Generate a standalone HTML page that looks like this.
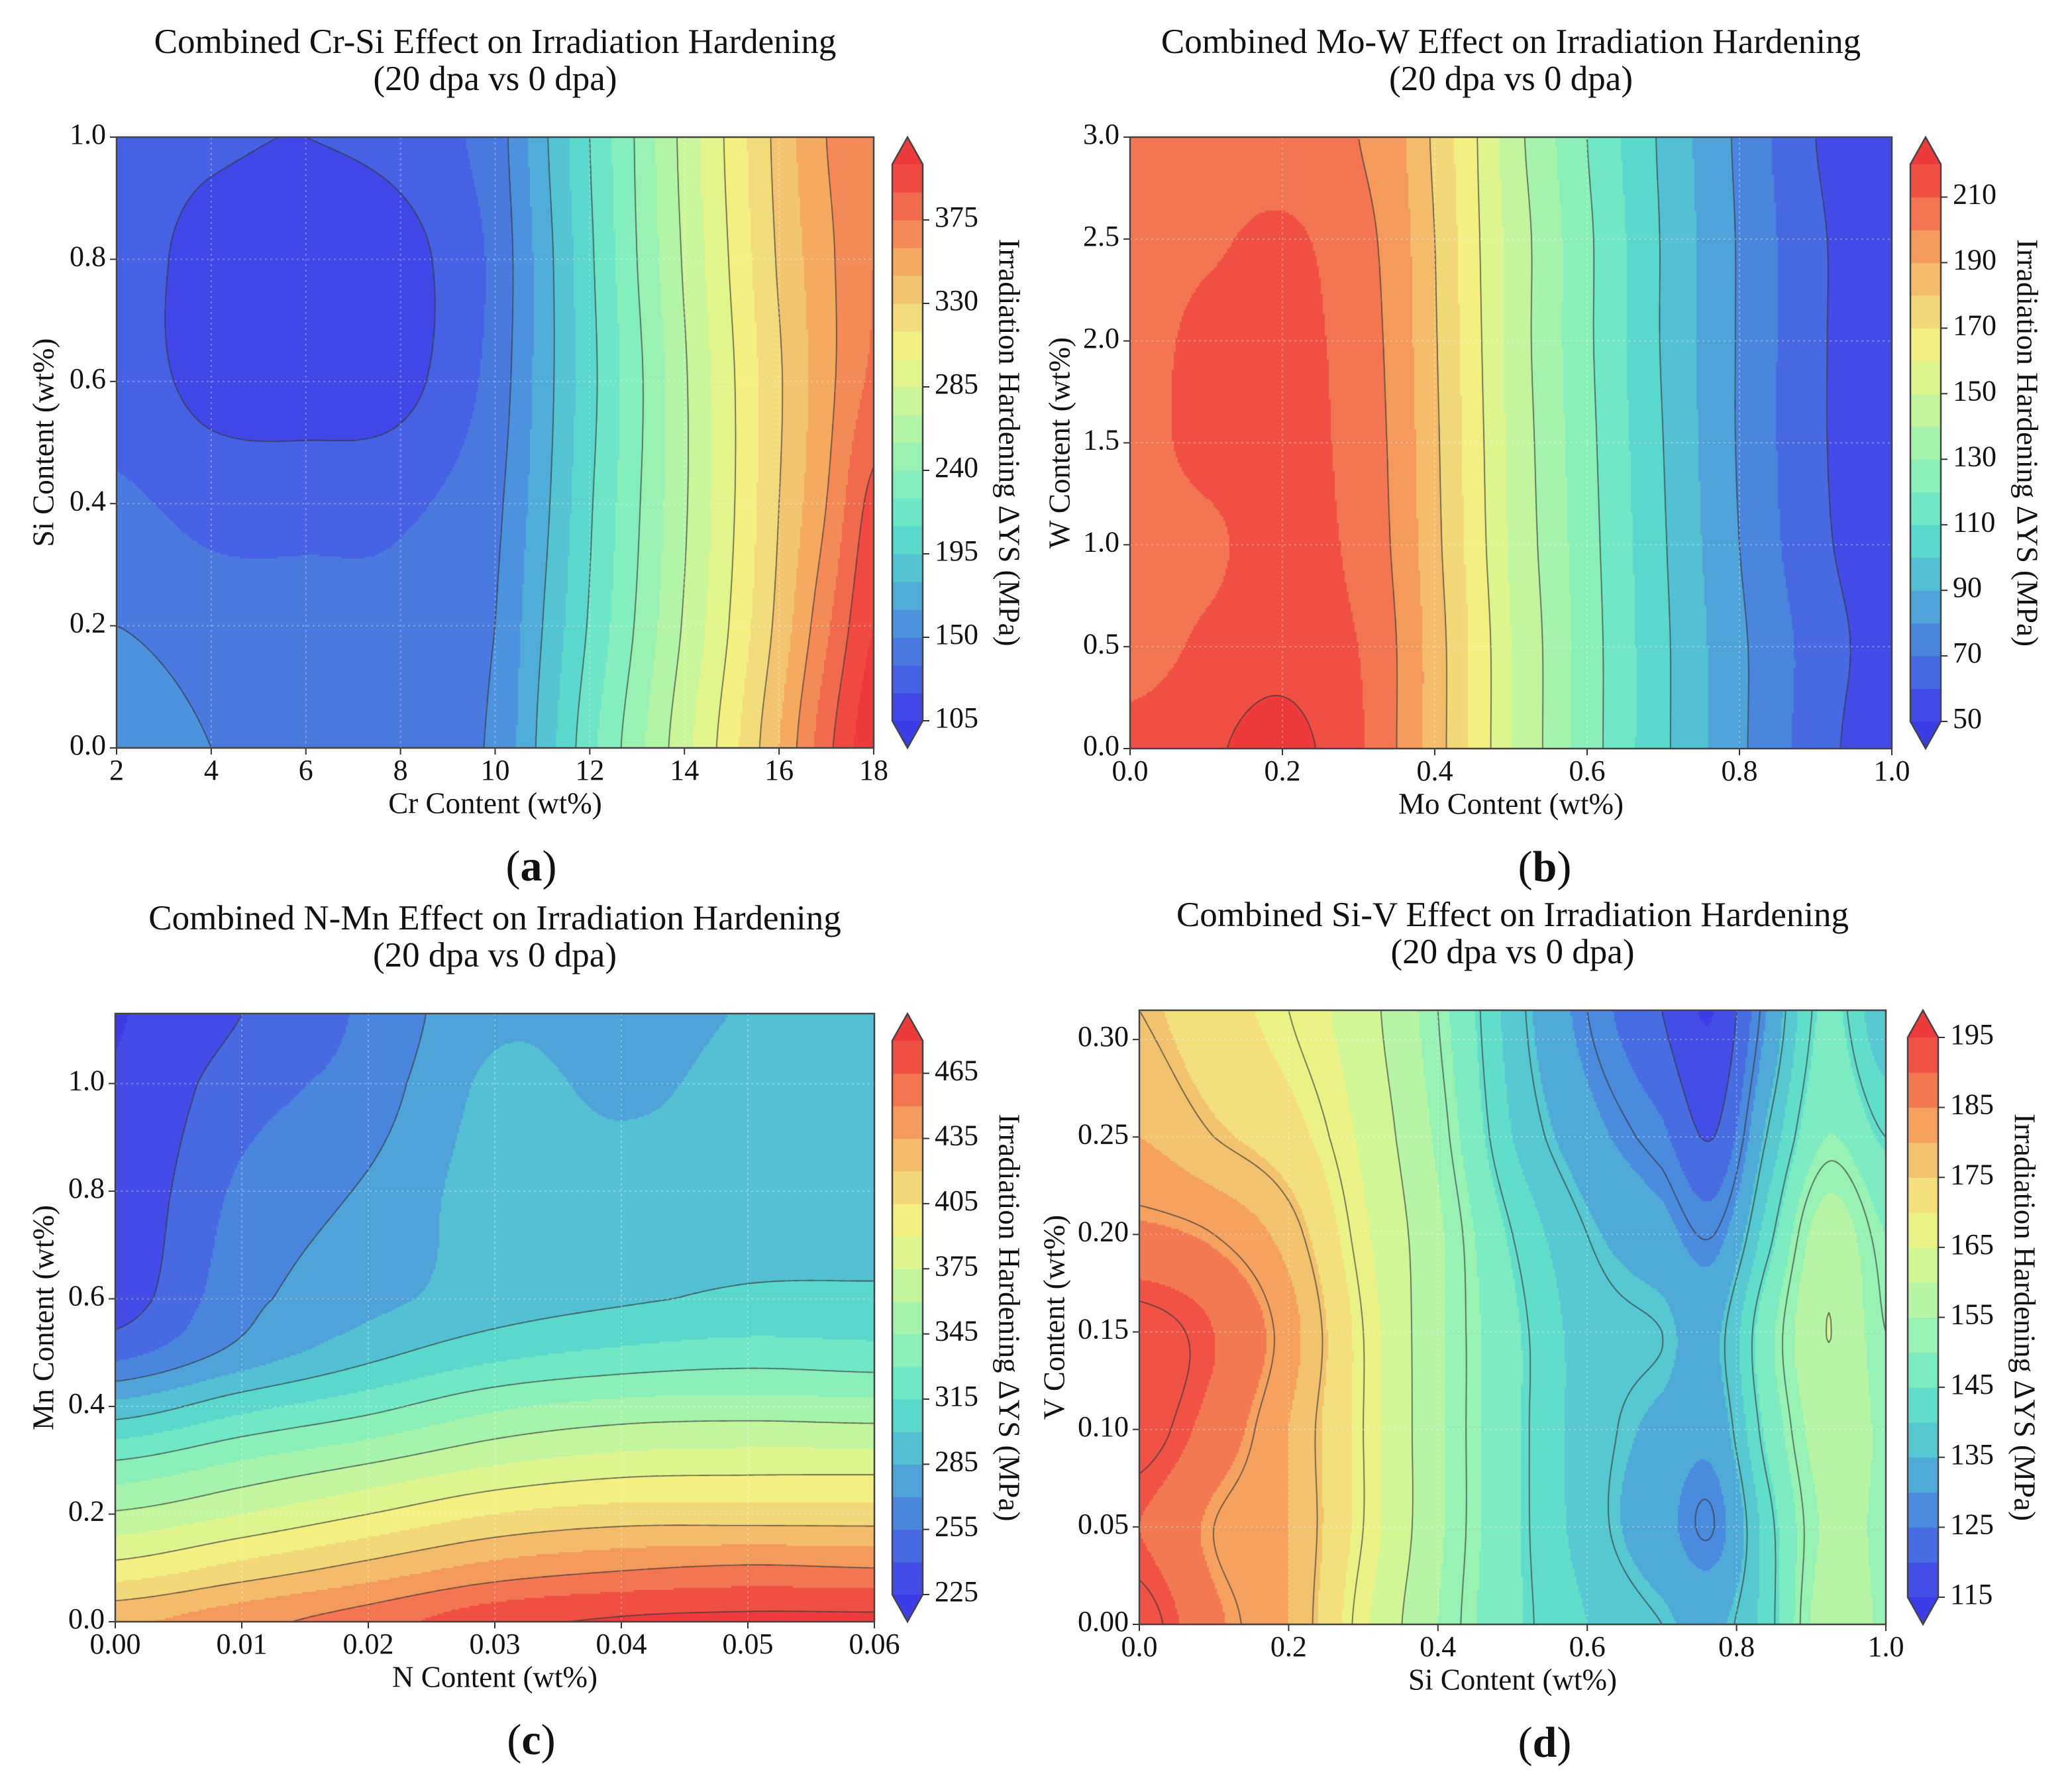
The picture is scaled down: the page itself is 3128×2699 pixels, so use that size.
<!DOCTYPE html>
<html><head><meta charset="utf-8">
<style>
html,body{margin:0;padding:0;background:#fff;}
#wrap{position:relative;width:3128px;height:2699px;overflow:hidden;}
canvas,svg{position:absolute;left:0;top:0;}
text{font-family:"Liberation Serif",serif;fill:#111;}
</style></head>
<body>
<div id="wrap">
<canvas id="cv" width="3128" height="2699"></canvas>
<svg id="sv" width="3128" height="2699" xmlns="http://www.w3.org/2000/svg"></svg>
</div>
<script>
// ---------- DATA ----------
const aX=[2,4,6,8,10,11,12,13,14,15,16,17,18];
const aY=[0,0.2,0.4,0.6,0.8,1.0];
const aZ=[
[162,150,146,146,152,185,220,250,280,310,345,385,415],
[150,142,140,140,150,180,212,242,272,302,335,372,405],
[138,130,130,132,146,175,208,238,268,298,330,360,395],
[128,115,112,115,140,172,205,236,268,298,328,355,378],
[126,115,112,114,138,172,207,240,272,302,332,356,375],
[126,122,120,125,142,176,210,242,275,305,335,360,372]];
const bX=[0,0.1,0.2,0.3,0.35,0.4,0.45,0.5,0.6,0.7,0.8,0.9,1.0];
const bY=[0,0.5,1.0,1.5,2.0,2.5,3.0];
const bZ=[
[214,218,224,212,200,185,168,150,125,102,82,65,52],
[205,212,216,210,200,185,168,150,125,102,82,66,55],
[205,208,214,208,198,183,166,148,124,101,80,63,53],
[206,213,214,207,197,182,165,147,123,100,79,62,52],
[205,213,214,206,196,181,164,146,122,99,79,62,52],
[204,208,212,204,195,180,163,146,122,99,79,62,52],
[202,204,204,200,193,178,162,144,120,98,78,60,50]];
const cX=[0,0.01,0.02,0.03,0.04,0.05,0.06];
const cY=[0,0.1,0.2,0.3,0.4,0.5,0.6,0.8,1.0,1.13];
const cZ=[
[432,445,458,475,482,484,484],
[395,410,425,440,448,452,450],
[362,375,390,405,412,412,412],
[330,345,358,372,380,382,382],
[290,310,325,342,350,352,350],
[250,275,295,310,318,322,320],
[232,265,280,292,298,302,302],
[228,258,272,292,292,292,294],
[226,248,262,288,282,290,294],
[224,240,258,282,280,286,292]];
const dX=[0,0.1,0.2,0.3,0.4,0.5,0.6,0.7,0.77,0.84,0.92,1.0];
const dY=[0,0.05,0.1,0.15,0.2,0.25,0.315];
const dZ=[
[194,186,180,166,155,146,140,136,134,142,158,154],
[190,184,180,168,156,146,138,132,128,142,156,154],
[194,188,180,168,156,146,138,134,132,146,158,154],
[194,190,182,168,156,146,138,136,134,148,160,152],
[186,184,178,166,156,144,136,132,128,142,158,150],
[180,176,172,164,154,140,132,126,120,136,150,144],
[176,172,168,162,152,138,128,120,115,130,146,136]];
// fill levels [start, stop, step], line levels [start, stop, step]
const aLevels=[105,405,15], aLines=[120,390,30];
const bLevels=[50,220,10],  bLines=[60,220,20];
const cLevels=[225,480,15], cLines=[240,480,30];
const dLevels=[115,195,5],  dLines=[120,192,8];
const aXTicks=[2,4,6,8,10,12,14,16,18], aYTicks=["0.0","0.2","0.4","0.6","0.8","1.0"];
const bXTicks=["0.0","0.2","0.4","0.6","0.8","1.0"], bYTicks=["0.0","0.5","1.0","1.5","2.0","2.5","3.0"];
const cXTicks=["0.00","0.01","0.02","0.03","0.04","0.05","0.06"], cYTicks=["0.0","0.2","0.4","0.6","0.8","1.0"];
const dXTicks=["0.0","0.2","0.4","0.6","0.8","1.0"], dYTicks=["0.00","0.05","0.10","0.15","0.20","0.25","0.30"];
const aCbTicks=[105,150,195,240,285,330,375];
const bCbTicks=[50,70,90,110,130,150,170,190,210];
const cCbTicks=[225,255,285,315,345,375,405,435,465];
const dCbTicks=[115,125,135,145,155,165,175,185,195];

// ---------- LAYOUT ----------
const panels=[
 {id:'a',X:aX,Y:aY,Z:aZ,lev:aLevels,lin:aLines,xt:aXTicks,yt:aYTicks,cbt:aCbTicks,
  xr:[2,18],yr:[0,1],x0:176,x1:1319,y0:207,y1:1129,cbx:1347,ylx:70,
  title:"Combined Cr-Si Effect on Irradiation Hardening",xl:"Cr Content (wt%)",yl:"Si Content (wt%)"},
 {id:'b',X:bX,Y:bY,Z:bZ,lev:bLevels,lin:bLines,xt:bXTicks,yt:bYTicks,cbt:bCbTicks,
  xr:[0,1],yr:[0,3],x0:1706,x1:2856,y0:207,y1:1130,cbx:2884,ylx:1604,
  title:"Combined Mo-W Effect on Irradiation Hardening",xl:"Mo Content (wt%)",yl:"W Content (wt%)"},
 {id:'c',X:cX,Y:cY,Z:cZ,lev:cLevels,lin:cLines,xt:cXTicks,yt:cYTicks,cbt:cCbTicks,
  xr:[0,0.06],yr:[0,1.13],x0:174,x1:1320,y0:1530,y1:2448,cbx:1347,ylx:70,
  title:"Combined N-Mn Effect on Irradiation Hardening",xl:"N Content (wt%)",yl:"Mn Content (wt%)"},
 {id:'d',X:dX,Y:dY,Z:dZ,lev:dLevels,lin:dLines,xt:dXTicks,yt:dYTicks,cbt:dCbTicks,
  xr:[0,1],yr:[0,0.315],x0:1720,x1:2847,y0:1525,y1:2452,cbx:2880,ylx:1596,
  title:"Combined Si-V Effect on Irradiation Hardening",xl:"Si Content (wt%)",yl:"V Content (wt%)"}
];

const palette=["#3c3ce8","#4248e8","#4662e4","#4a7ae0","#4c92dc","#50acd8","#54c4d2","#5ad8cc","#6ce6c6","#84eebe","#9af2b2",
 "#b2f5a6","#caf59a","#e2f48c","#f2f080","#f3dc7c","#f3c470","#f5aa62","#f48a58","#f26a4e","#f04a42","#ee3a3a"];
const palRGB=palette.map(h=>[1,3,5].map(i=>parseInt(h.substr(i,2),16)));
function cmap(t){
  const f=Math.max(0,Math.min(1,t))*(palRGB.length-1);const i=Math.min(palRGB.length-2,Math.floor(f));const u=f-i;
  const c0=palRGB[i],c1=palRGB[i+1];
  return 'rgb('+c0.map((v,k)=>Math.round(v+(c1[k]-v)*u)).join(',')+')';
}
function binIndex(v,lev){
  const n=Math.round((lev[1]-lev[0])/lev[2]);
  if(v<lev[0])return 0; if(v>=lev[1])return n+1;
  return Math.floor((v-lev[0])/lev[2])+1;
}
function cr(p0,p1,p2,p3,t){return 0.5*((2*p1)+(-p0+p2)*t+(2*p0-5*p1+4*p2-p3)*t*t+(-p0+3*p1-3*p2+p3)*t*t*t);}
function seg(xs,x){let i=0;while(i<xs.length-2&&x>xs[i+1])i++;let t=(x-xs[i])/(xs[i+1]-xs[i]);return [i,Math.max(0,Math.min(1,t))];}
function interp(P,x,y){
  const [i,tx]=seg(P.X,x),[j,ty]=seg(P.Y,y);
  const nx=P.X.length,ny=P.Y.length;const cl=(k,n)=>Math.max(0,Math.min(n-1,k));
  const rows=[];
  for(let r=-1;r<=2;r++){const row=P.Z[cl(j+r,ny)];
    rows.push(cr(row[cl(i-1,nx)],row[i],row[cl(i+1,nx)],row[cl(i+2,nx)],tx));}
  return cr(rows[0],rows[1],rows[2],rows[3],ty);
}

const ctx=document.getElementById('cv').getContext('2d');
const sv=document.getElementById('sv');
const NS='http://www.w3.org/2000/svg';
function el(tag,attrs,parent,txt){const e=document.createElementNS(NS,tag);for(const k in attrs)e.setAttribute(k,attrs[k]);if(txt!==undefined)e.textContent=txt;(parent||sv).appendChild(e);return e;}

panels.forEach(P=>{
  const W=P.x1-P.x0,H=P.y1-P.y0,c=3;
  const nx=Math.ceil(W/c),ny=Math.ceil(H/c);
  const nbins=Math.round((P.lev[1]-P.lev[0])/P.lev[2]);
  const G=[];
  for(let j=0;j<=ny;j++){const row=[];const py=Math.min(H,j*c);
    const dy=P.yr[1]-py/H*(P.yr[1]-P.yr[0]);
    for(let i=0;i<=nx;i++){const px=Math.min(W,i*c);const dx=P.xr[0]+px/W*(P.xr[1]-P.xr[0]);row.push(interp(P,dx,dy));}
    G.push(row);}
  for(let j=0;j<ny;j++)for(let i=0;i<nx;i++){
    const v=(G[j][i]+G[j][i+1]+G[j+1][i]+G[j+1][i+1])/4;
    ctx.fillStyle=cmap(binIndex(v,P.lev)/(nbins+1));
    const x=P.x0+i*c,y=P.y0+j*c;
    ctx.fillRect(x,y,Math.min(c+0.6,P.x1-x),Math.min(c+0.6,P.y1-y));
  }
  ctx.strokeStyle='rgba(55,55,55,0.8)';ctx.lineWidth=1.6;ctx.beginPath();
  for(let L=P.lin[0];L<=P.lin[1]+1e-9;L+=P.lin[2]){
    for(let j=0;j<ny;j++)for(let i=0;i<nx;i++){
      const x=P.x0+i*c,y=P.y0+j*c,xx=Math.min(P.x1,x+c),yy=Math.min(P.y1,y+c);
      const a=G[j][i],b=G[j][i+1],d=G[j+1][i],e=G[j+1][i+1];
      const pts=[];
      if((a-L)*(b-L)<0)pts.push([x+(L-a)/(b-a)*(xx-x),y]);
      if((b-L)*(e-L)<0)pts.push([xx,y+(L-b)/(e-b)*(yy-y)]);
      if((d-L)*(e-L)<0)pts.push([x+(L-d)/(e-d)*(xx-x),yy]);
      if((a-L)*(d-L)<0)pts.push([x,y+(L-a)/(d-a)*(yy-y)]);
      for(let k=0;k+1<pts.length;k+=2){ctx.moveTo(pts[k][0],pts[k][1]);ctx.lineTo(pts[k+1][0],pts[k+1][1]);}
    }
  }
  ctx.stroke();

  const g=el('g',{});
  
  
  const cx=(P.x0+P.x1)/2;
  const t1=el('text',{x:cx,y:P.y0-139,'font-size':53,'text-anchor':'middle','dominant-baseline':'middle'},g,P.title);
  
  
  const t2=el('text',{x:cx,y:P.y0-83,'font-size':53,'text-anchor':'middle','dominant-baseline':'middle'},g,'(20 dpa vs 0 dpa)');
  
  
  const sx=v=>P.x0+(v-P.xr[0])/(P.xr[1]-P.xr[0])*W;
  const sy=v=>P.y1-(v-P.yr[0])/(P.yr[1]-P.yr[0])*H;
  P.xt.forEach(t=>{const x=sx(parseFloat(t));
    const gl=el('line',{x1:x,x2:x,y1:P.y0,y2:P.y1,stroke:'rgba(255,255,255,0.3)','stroke-width':2,'stroke-dasharray':'3,5'},g);
    
    
    el('line',{x1:x,x2:x,y1:P.y1,y2:P.y1+10,stroke:'#333','stroke-width':2},g);
    const tl=el('text',{x:x,y:P.y1+38,'font-size':44,'text-anchor':'middle','dominant-baseline':'middle'},g,String(t));
    
    });
  P.yt.forEach(t=>{const y=sy(parseFloat(t));
    const gl=el('line',{x1:P.x0,x2:P.x1,y1:y,y2:y,stroke:'rgba(255,255,255,0.3)','stroke-width':2,'stroke-dasharray':'3,5'},g);
    
    
    el('line',{x1:P.x0-10,x2:P.x0,y1:y,y2:y,stroke:'#333','stroke-width':2},g);
    const tl=el('text',{x:P.x0-16,y:y,'font-size':44,'text-anchor':'end','dominant-baseline':'middle'},g,String(t));
    
    });
  const fr=el('rect',{x:P.x0,y:P.y0,width:W,height:H,fill:'none',stroke:'#444','stroke-width':2.5},g);
  
  
  const xl=el('text',{x:cx,y:P.y1+88,'font-size':45,'text-anchor':'middle','dominant-baseline':'middle'},g,P.xl);
  
  
  const ym=(P.y0+P.y1)/2;
  const yl=el('text',{x:P.ylx,y:ym,'font-size':45,'text-anchor':'middle','dominant-baseline':'middle',transform:'rotate(-90 '+P.ylx+' '+ym+')'},g,P.yl);
  
  
  const cb=el('g',{},g);
  
  
  const cw=46,ext=41,rT=P.y0+ext,rB=P.y1-ext,rH=rB-rT,bh=rH/nbins;
  for(let k=0;k<nbins;k++){
    const r=el('rect',{x:P.cbx,y:rB-(k+1)*bh,width:cw,height:bh+0.6,fill:cmap((k+1)/(nbins+1))},cb);
    
    
  }
  const up=el('polygon',{points:`${P.cbx},${rT} ${P.cbx+cw/2},${P.y0} ${P.cbx+cw},${rT}`,fill:cmap(1)},cb);
  
  
  const dn=el('polygon',{points:`${P.cbx},${rB} ${P.cbx+cw/2},${P.y1} ${P.cbx+cw},${rB}`,fill:cmap(0)},cb);
  
  
  el('polygon',{points:`${P.cbx},${rT} ${P.cbx+cw/2},${P.y0} ${P.cbx+cw},${rT} ${P.cbx+cw},${rB} ${P.cbx+cw/2},${P.y1} ${P.cbx},${rB}`,fill:'none',stroke:'#444','stroke-width':2.5},cb);
  P.cbt.forEach(v=>{const y=rB-(v-P.lev[0])/(P.lev[1]-P.lev[0])*rH;
    el('line',{x1:P.cbx+cw,x2:P.cbx+cw+10,y1:y,y2:y,stroke:'#333','stroke-width':2},cb);
    const tl=el('text',{x:P.cbx+cw+18,y:y,'font-size':44,'dominant-baseline':'middle'},cb,String(v));
    
    });
  const lx=P.cbx+172;
  const cl=el('text',{x:lx,y:ym,'font-size':45,'text-anchor':'middle','dominant-baseline':'middle',transform:'rotate(90 '+lx+' '+ym+')'},cb,'Irradiation Hardening ΔYS (MPa)');
  
  
  const lt=el('text',{x:(P.id==='a'||P.id==='c')?802:2332,y:P.y1+185,'font-size':66,'text-anchor':'middle','dominant-baseline':'middle'},g);
  
  
  el('tspan',{},lt,'(');el('tspan',{'font-weight':'bold'},lt,P.id);el('tspan',{},lt,')');
});
</script>
</body></html>
